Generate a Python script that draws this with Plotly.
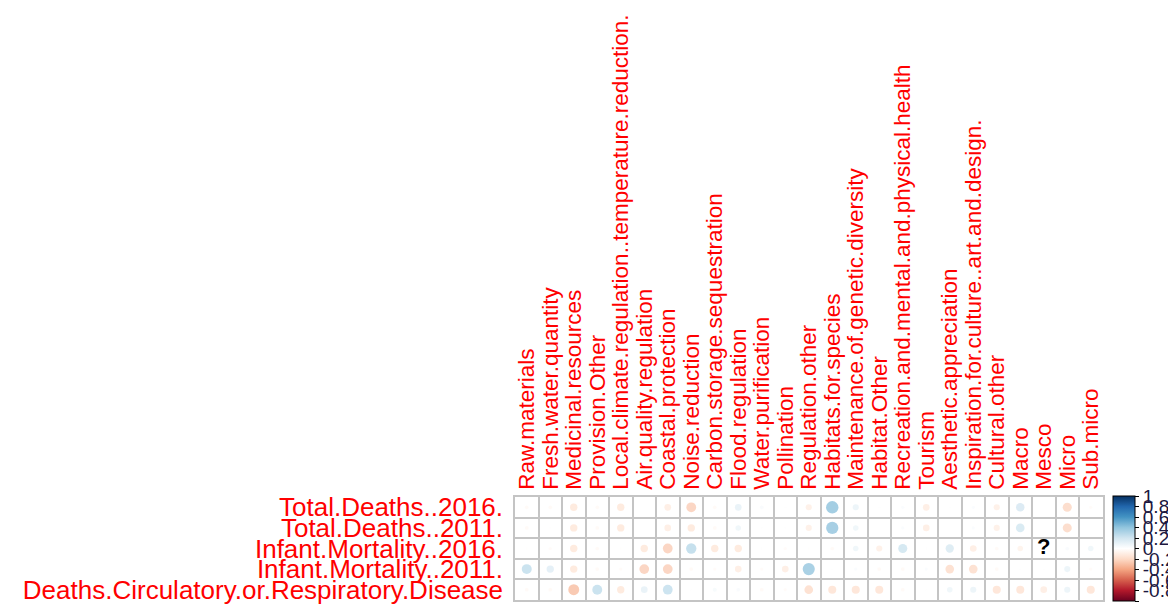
import numpy as np
import plotly.graph_objects as go

columns = ["Raw.materials", "Fresh.water.quantity", "Medicinal.resources", "Provision.Other",
           "Local.climate.regulation..temperature.reduction.", "Air.quality.regulation",
           "Coastal.protection", "Noise.reduction", "Carbon.storage.sequestration",
           "Flood.regulation", "Water.purification", "Pollination", "Regulation.other",
           "Habitats.for.species", "Maintenance.of.genetic.diversity", "Habitat.Other",
           "Recreation.and.mental.and.physical.health", "Tourism", "Aesthetic.appreciation",
           "Inspiration.for.culture..art.and.design.", "Cultural.other", "Macro", "Mesco",
           "Micro", "Sub.micro"]

rows = ["Total.Deaths..2016.", "Total.Deaths..2011.", "Infant.Mortality..2016.",
        "Infant.Mortality..2011.", "Deaths.Circulatory.or.Respiratory.Disease"]

total_deaths_2016 = [-0.04, -0.04, -0.16, -0.04, -0.16, 0.00, -0.13, -0.28, -0.04, 0.13, 0.04, 0.01, -0.11,
                     0.45, 0.11, 0.01, 0.03, -0.13, 0.01, 0.03, -0.11, 0.21, 0.00, -0.24, -0.03]
total_deaths_2011 = [-0.04, -0.01, -0.16, -0.04, -0.16, 0.00, -0.13, -0.16, -0.04, 0.09, 0.01, 0.01, -0.11,
                     0.44, 0.09, 0.00, 0.03, -0.13, 0.00, 0.03, -0.11, 0.22, 0.00, -0.24, 0.00]
infant_mortality_2016 = [-0.01, -0.03, -0.16, -0.04, -0.01, -0.16, -0.28, 0.31, -0.16, -0.16, 0.01, -0.03, -0.01,
                         -0.04, 0.09, -0.11, 0.24, 0.01, 0.20, -0.13, -0.04, -0.09, np.nan, 0.04, 0.09]
infant_mortality_2011 = [0.29, 0.16, -0.16, -0.04, -0.03, -0.28, -0.28, -0.04, -0.03, -0.13, -0.03, -0.13, 0.43,
                         0.01, 0.03, -0.04, -0.04, 0.03, -0.22, -0.22, -0.04, 0.01, 0.01, 0.11, -0.03]
deaths_circ_resp = [-0.04, -0.04, -0.35, 0.29, -0.16, 0.13, 0.28, 0.01, 0.05, 0.04, -0.04, -0.03, -0.22,
                    -0.19, -0.19, -0.19, -0.04, 0.01, 0.09, 0.11, -0.19, -0.19, -0.13, 0.11, -0.19]

values = [total_deaths_2016, total_deaths_2011, infant_mortality_2016, infant_mortality_2011, deaths_circ_resp]

colorbar_ticks = [1, 0.8, 0.6, 0.4, 0.2, 0, -0.2, -0.4, -0.6, -0.8, -1]

col2 = ["#67001F", "#B2182B", "#D6604D", "#F4A582", "#FDDBC7", "#FFFFFF",
        "#D1E5F0", "#92C5DE", "#4393C3", "#2166AC", "#053061"]
colorscale = [[i / (len(col2) - 1), c] for i, c in enumerate(col2)]

ncol, nrow = len(columns), len(rows)
# the page body has an 8px default margin, so the figure is offset by 8px
OFF = 8
W, H = 1176 - OFF, 608 - OFF
x0, x1 = 515 - OFF, 1102.5 - OFF
ytop, ybot = 497 - OFF, 600 - OFF
cell = 20.5

xs, ys, vs, sizes = [], [], [], []
na_x, na_y = [], []
for i, r in enumerate(values):
    for j, v in enumerate(r):
        yy = nrow - i
        if np.isnan(v):
            na_x.append(j + 1)
            na_y.append(yy)
            continue
        xs.append(j + 1)
        ys.append(yy)
        vs.append(v)
        sizes.append(max(0.9 * np.sqrt(abs(v)) * cell, 0.01))

fig = go.Figure()
fig.add_trace(go.Scatter(
    x=xs, y=ys, mode="markers",
    marker=dict(size=sizes, color=vs, cmin=-1, cmax=1, colorscale=colorscale,
                line=dict(width=0),
                colorbar=dict(
                    x=(1113 - OFF) / W, xanchor="left", xpad=0,
                    y=(H - (ytop + ybot) / 2) / H, yanchor="middle", ypad=0,
                    thickness=22, len=ybot - ytop + 2, lenmode="pixels",
                    outlinewidth=1, outlinecolor="black",
                    tickvals=colorbar_ticks, ticktext=[str(t) for t in colorbar_ticks],
                    ticks="outside", ticklen=4, tickcolor="black",
                    tickfont=dict(family="Liberation Sans", size=19, color="#1c1840"),
                )),
    hoverinfo="skip", showlegend=False,
))
fig.add_trace(go.Scatter(
    x=na_x, y=na_y, mode="text", text=["?"] * len(na_x),
    textfont=dict(family="Liberation Sans", size=22, color="black", weight="bold"),
    textposition="middle center", showlegend=False, hoverinfo="skip",
))

grid = dict(showgrid=True, gridcolor="#C4C4C4", gridwidth=1.5, tick0=0.5, dtick=1, ticks="")
fig.update_layout(
    width=W, height=H, margin=dict(l=0, r=0, t=0, b=0, autoexpand=False),
    paper_bgcolor="white", plot_bgcolor="white",
    xaxis=dict(domain=[x0 / W, x1 / W], range=[0.5, ncol + 0.5], side="top",
               tickmode="array", tickvals=list(range(1, ncol + 1)), ticktext=columns,
               tickangle=-90, ticks="", showgrid=False, zeroline=False,
               showline=True, mirror=True, linecolor="#C4C4C4", linewidth=1.5,
               tickfont=dict(family="Liberation Sans", size=22.5, color="red"),
               ticklabelstandoff=1, minor=grid, automargin=False),
    yaxis=dict(domain=[(H - ybot) / H, (H - ytop) / H], range=[0.5, nrow + 0.5],
               tickmode="array", tickvals=list(range(nrow, 0, -1)), ticktext=rows,
               ticks="", showgrid=False, zeroline=False,
               showline=True, mirror=True, linecolor="#C4C4C4", linewidth=1.5,
               tickfont=dict(family="Liberation Sans", size=26, color="red"),
               ticklabelstandoff=5, minor=grid, automargin=False),
)

fig.write_html("out.html")
